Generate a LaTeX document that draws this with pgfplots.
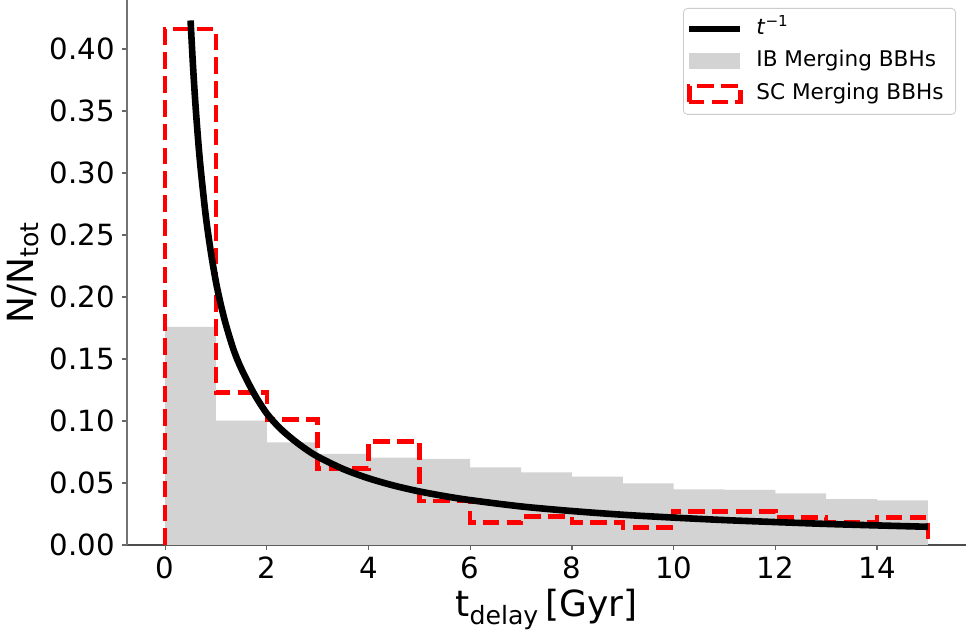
\documentclass[border=0pt]{standalone}
\usepackage{fontspec}
\setmainfont{DejaVu Sans}
\usepackage{pgfplots}
\pgfplotsset{compat=1.18}
\definecolor{lg}{HTML}{D3D3D3}
\newcommand{\legbb}{\pgfpathrectangle{\pgfpoint{3pt}{-3.5pt}}{\pgfpoint{22.5pt}{7pt}}\pgfusepath{use as bounding box}}
\pgfplotsset{
  linelegend/.style={legend image code/.code={\legbb\draw[sharp corners,##1] (0pt,0pt) -- (25.5pt,0pt);}},
  filllegend/.style={legend image code/.code={\legbb\fill[sharp corners,##1] (0pt,-4pt) rectangle (25.5pt,4pt);}},
  rectlegend/.style={legend image code/.code={\legbb\draw[sharp corners,##1] (0pt,-4pt) rectangle (25.5pt,4pt);}},
}
\begin{document}
\begin{tikzpicture}
\begin{axis}[
  scale only axis,
  width=419.5pt, height=272.5pt,
  xmin=-0.75, xmax=15.75, ymin=0, ymax=0.4395,
  axis x line*=bottom, axis y line*=left,
  x axis line style={black!70, line width=0.7pt},
  y axis line style={black!55, line width=0.7pt},
  tick align=outside,
  major tick length=2.5pt,
  every tick/.style={black!60, line width=0.6pt},
  xtick={0,2,4,6,8,10,12,14},
  ytick={0,0.05,0.1,0.15,0.2,0.25,0.3,0.35,0.4},
  /pgf/number format/assume math mode=true,
  yticklabel style={/pgf/number format/.cd, fixed, fixed zerofill, precision=2},
  ticklabel style={font=\fontsize{14.6}{17}\selectfont},
  xlabel={t\textsubscript{delay}\hspace{0.17em}[Gyr]},
  ylabel={N/N\textsubscript{tot}},
  label style={font=\fontsize{18}{22}\selectfont},
  xlabel style={at={(axis description cs:0.5,-0.132)}, anchor=base},
  ylabel style={at={(axis description cs:-0.124,0.5)}, anchor=center},
  legend cell align=left,
  legend style={draw=black!20, rounded corners=2pt, fill=white,
    font=\fontsize{10.8}{13}\selectfont,
    at={(1,1)}, anchor=north east, xshift=-5pt, yshift=-4pt,
    inner xsep=6pt, inner ysep=5pt, row sep=5.75pt,
    nodes={inner sep=0pt, text height=8pt, text depth=2.5pt},
    /tikz/every odd column/.append style={column sep=8pt}},
]
\addlegendimage{black, line width=3.3pt, linelegend}
\addlegendentry{\textit{t}\textsuperscript{−1}}
\addlegendimage{fill=lg, draw=none, filllegend}
\addlegendentry{IB Merging BBHs}
\addlegendimage{red, line width=2.25pt, dash pattern=on 8.3pt off 3.6pt, rectlegend}
\addlegendentry{SC Merging BBHs}

% IB histogram (grey)
\addplot[fill=lg, draw=none, const plot, forget plot] coordinates {
(0,0.176)(1,0.1003)(2,0.0828)(3,0.0734)(4,0.0705)(5,0.0695)(6,0.0626)(7,0.0586)
(8,0.0551)(9,0.0497)(10,0.0449)(11,0.0444)(12,0.0417)(13,0.0371)(14,0.036)(15,0.036)
} \closedcycle;

% SC histogram (red dashed step)
\addplot[red, line width=2.25pt, dash pattern=on 8.3pt off 3.6pt, const plot, forget plot] coordinates {
(0,0)(0,0.416)(1,0.1228)(2,0.1013)(3,0.0618)(4,0.0833)(5,0.0355)(6,0.018)(7,0.0228)
(8,0.0183)(9,0.014)(10,0.0269)(11,0.0269)(12,0.0223)(13,0.018)(14,0.0223)(15,0.0223)(15,0)
};

% t^-1 curve
\addplot[black, line width=3.3pt, smooth, forget plot] coordinates {
(0.5,0.423)(0.55,0.385)(0.6,0.353)(0.65,0.326)(0.7,0.303)(0.8,0.265)(0.9,0.236)
(1.0,0.212)(1.1,0.193)(1.2,0.177)(1.35,0.157)(1.5,0.142)(1.75,0.122)(2,0.106)
(2.25,0.0945)(2.5,0.0855)(2.75,0.0778)(3,0.0713)(3.5,0.0613)(4,0.0538)(4.5,0.0479)
(5,0.0432)(5.5,0.0394)(6,0.0362)(7,0.0311)(8,0.0274)(9,0.0244)(10,0.0221)
(11,0.0201)(12,0.0185)(13,0.0170)(14,0.0158)(15,0.0147)
};
\end{axis}
\pgfresetboundingbox
\path (current axis.south west) ++(-63.5pt,-44pt) rectangle (current axis.north east);
\end{tikzpicture}
\end{document}
